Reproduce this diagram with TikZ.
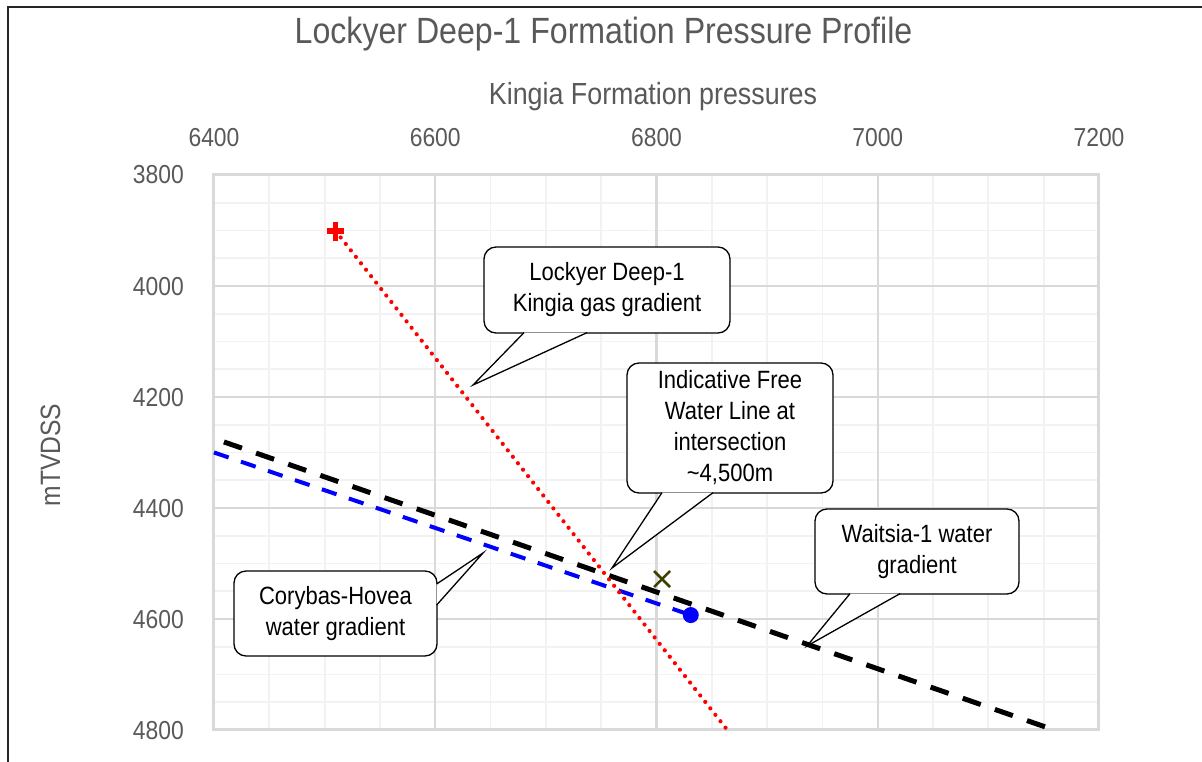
\documentclass[tikz,border=0pt]{standalone}
\usepackage{fontspec}
\setmainfont{Liberation Sans}[FakeStretch=0.88]
\usetikzlibrary{calc}

\definecolor{axisgray}{HTML}{595959}
\definecolor{majorgrid}{HTML}{D9D9D9}
\definecolor{minorgrid}{HTML}{F2F2F2}
\definecolor{crossolive}{HTML}{3F3F00}

\begin{document}
\begin{tikzpicture}[x=1pt,y=-1pt,
    axislabel/.style={text=axisgray,inner sep=0pt},
    ticklabel/.style={axislabel,font=\fontsize{26}{28}\selectfont},
    calloutbox/.style={draw,fill=white,line width=1.3pt,rounded corners=12pt,align=center,
      inner sep=0pt,font=\fontsize{25}{31}\selectfont},
    tail/.style={draw,fill=white,line width=1.3pt,line join=miter}]

  \path[use as bounding box,fill=white] (0,0) rectangle (1202,762);
  \draw[line width=2pt,black!85] (8,762) -- (8,7) -- (1202,7);

  \node[axislabel,font=\fontsize{36.5}{40}\selectfont,anchor=base] (title) at (603.5,44) {Lockyer Deep-1 Formation Pressure Profile};
  \node[axislabel,font=\fontsize{30.5}{34}\selectfont,anchor=base] (xtitle) at (653,105) {Kingia Formation pressures};
  \node[axislabel,font=\fontsize{28}{30}\selectfont,rotate=90,anchor=base] (ytitle) at (60,455) {mTVDSS};

  \foreach \p [count=\i from 0] in {6400,6600,...,7200}
    \node[ticklabel,anchor=base] (xt\p) at ({214+221.25*\i},147) {\p};
  \foreach \d [count=\i from 0] in {3800,4000,...,4800}
    \node[ticklabel,anchor=base east] (yt\d) at (184,{184+111*\i}) {\d};

  % plot area, pressure / depth coordinates
  \begin{scope}[x=1.10625pt,y=-0.555pt,xshift=-6866pt,yshift=1934pt]
    \foreach \p in {6400,6450,...,7200}
      \draw[minorgrid,line width=1.8pt] (\p,3800) -- (\p,4800);
    \foreach \d in {3800,3850,...,4800}
      \draw[minorgrid,line width=1.8pt] (6400,\d) -- (7200,\d);
    \foreach \p in {6600,6800,7000}
      \draw[majorgrid,line width=2.2pt] (\p,3800) -- (\p,4800);
    \foreach \d in {4000,4200,4400,4600}
      \draw[majorgrid,line width=2.2pt] (6400,\d) -- (7200,\d);
    \draw[majorgrid,line width=3pt] (6400,3800) rectangle (7200,4800);

    % gradients
    \draw[black,line width=5pt,dash pattern=on 19pt off 15pt] (6409,4281) -- (7158,4799);
    \draw[blue,line width=4pt,dash pattern=on 15.5pt off 13pt] (6400,4300) -- (6831,4593);
    \draw[red,line width=4.2pt,line cap=round,dash pattern=on 0pt off 8.2pt] (6510,3901) -- (6864,4800);

    % measured points
    \draw[red,line width=5.5pt] (6510,3901) ++(-8.5pt,0) -- ++(17pt,0)
      (6510,3901) ++(0,-9.5pt) -- ++(0,19pt);
    \fill[blue] (6831,4593) circle[radius=8pt];
    \draw[crossolive,line width=2.5pt] (6805,4528) ++(-8pt,-8pt) -- ++(16pt,16pt)
      (6805,4528) ++(-8pt,8pt) -- ++(16pt,-16pt);
  \end{scope}

  % callouts
  \node[calloutbox,minimum width=246pt,minimum height=86pt] (gasnote) at (607,290) {Lockyer Deep-1\\Kingia gas gradient};
  \coordinate (gastip) at (473,385);
  \draw[tail] ([xshift=-83pt,yshift=1pt]gasnote.south) -- (gastip) -- ([xshift=-20pt,yshift=1pt]gasnote.south);

  \node[calloutbox,minimum width=206pt,minimum height=130pt] (fwlnote) at (730,428) {Indicative Free\\Water Line at\\intersection\\\textasciitilde4,500m};
  \coordinate (fwltip) at (612,568);
  \draw[tail] ([xshift=-68pt,yshift=1pt]fwlnote.south) -- (fwltip) -- ([xshift=-17pt,yshift=1pt]fwlnote.south);

  \node[calloutbox,minimum width=204pt,minimum height=85pt] (waitnote) at (917,551.5) {Waitsia-1 water\\gradient};
  \coordinate (waittip) at (807,646);
  \draw[tail] ([xshift=-67pt,yshift=1pt]waitnote.south) -- (waittip) -- ([xshift=-17pt,yshift=1pt]waitnote.south);

  \node[calloutbox,minimum width=203pt,minimum height=85pt] (corynote) at (335.5,613.5) {Corybas-Hovea\\water gradient};
  \coordinate (corytip) at (483,553);
  \draw[tail] ([xshift=-1pt,yshift=29.5pt]corynote.east) -- (corytip) -- ([xshift=-1pt,yshift=8.5pt]corynote.east);

\end{tikzpicture}
\end{document}
